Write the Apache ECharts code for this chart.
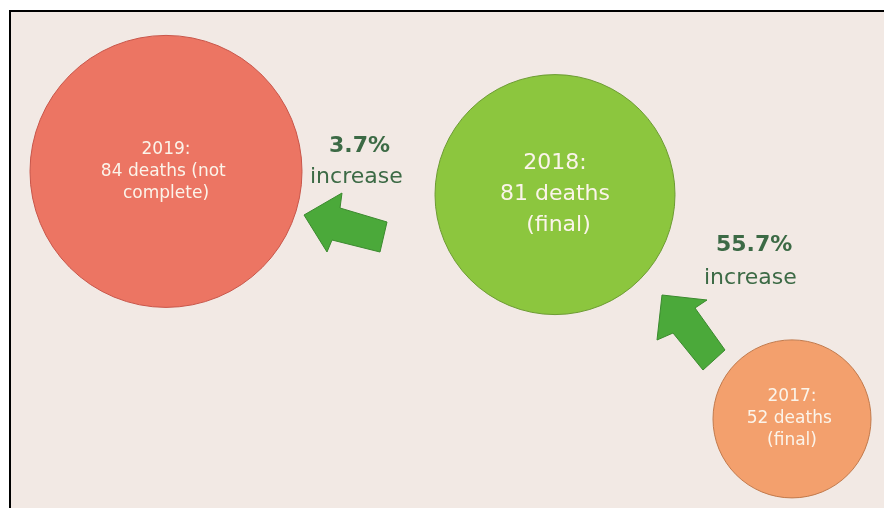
<!DOCTYPE html>
<html>
<head>
<meta charset="utf-8">
<script src="https://cdn.jsdelivr.net/npm/echarts@6/dist/echarts.min.js"></script>
<style>
  html, body { margin: 0; padding: 0; background: #ffffff; }
  #chart { width: 884px; height: 508px; }
</style>
</head>
<body>
<div id="chart"></div>
<script>
// Yearly death counts
const years = ['2019', '2018', '2017'];
const deaths = [84, 81, 52];
const notes = ['(not complete)', '(final)', '(final)'];

// Year-over-year change shown between the bubbles
const changeLabels = ['3.7%', '55.7%'];
const changeWord = 'increase';

// Layout: horizontal slot of each bubble, bubble diameters and colours
const bubbleX = [166, 555, 792];
const bubbleDiameter = [272, 240, 158];
const bubbleFill = ['#ec7563', '#8cc63e', '#f3a06d'];
const bubbleEdge = ['#c9564a', '#6d9c33', '#c27a4c'];
const labelSize = [17, 22, 17];
const labelLineHeight = [22, 31, 22];
const labelWidth = [132, 124, 96];

const FONT = '"DejaVu Sans", Verdana, sans-serif';
const TEXT_GREEN = '#3c6a45';
const ARROW_FILL = '#4ba93a';
const ARROW_EDGE = '#3b8a2e';

const chart = echarts.init(document.getElementById('chart'), null, { renderer: 'canvas' });

const bubbles = years.map((y, i) => ({
  value: [bubbleX[i], deaths[i]],
  symbolSize: bubbleDiameter[i],
  itemStyle: { color: bubbleFill[i], borderColor: bubbleEdge[i], borderWidth: 1, opacity: 1 },
  label: {
    fontSize: labelSize[i],
    lineHeight: labelLineHeight[i],
    width: labelWidth[i]
  }
}));

const option = {
  backgroundColor: '#ffffff',
  animation: false,
  grid: { left: 0, right: 0, top: 0, bottom: 0 },
  xAxis: { type: 'value', min: 0, max: 884, show: false },
  // vertical placement follows the death count
  yAxis: { type: 'value', min: 40.48, max: 106.16, show: false },
  graphic: [
    {
      type: 'rect', z: -10,
      shape: { x: 10, y: 11, width: 880, height: 510 },
      style: { fill: '#f2e9e4', stroke: '#000000', lineWidth: 2 }
    },
    {
      type: 'polygon', z: 1,
      shape: { points: [[304, 215], [342, 193], [340, 208], [387, 222], [380, 252], [332, 240], [327, 252]] },
      style: { fill: ARROW_FILL, stroke: ARROW_EDGE, lineWidth: 1 }
    },
    {
      type: 'polygon', z: 1,
      shape: { points: [[662, 295], [707, 300], [695, 308], [725, 350], [703, 370], [673, 333], [657, 340]] },
      style: { fill: ARROW_FILL, stroke: ARROW_EDGE, lineWidth: 1 }
    },
    {
      type: 'text', z: 5, left: 329, top: 135,
      style: { text: changeLabels[0], fill: TEXT_GREEN, font: 'bold 22px ' + FONT }
    },
    {
      type: 'text', z: 5, left: 310, top: 166,
      style: { text: changeWord, fill: TEXT_GREEN, font: '22px ' + FONT }
    },
    {
      type: 'text', z: 5, left: 716, top: 234,
      style: { text: changeLabels[1], fill: TEXT_GREEN, font: 'bold 22px ' + FONT }
    },
    {
      type: 'text', z: 5, left: 704, top: 267,
      style: { text: changeWord, fill: TEXT_GREEN, font: '22px ' + FONT }
    }
  ],
  series: [{
    type: 'scatter',
    symbol: 'circle',
    clip: false,
    z: 3,
    data: bubbles,
    label: {
      show: true,
      position: 'inside',
      color: '#fbf4ea',
      fontFamily: FONT,
      align: 'center',
      overflow: 'break',
      formatter: p => `${years[p.dataIndex]}:\n${deaths[p.dataIndex]} deaths ${notes[p.dataIndex]}`
    },
    emphasis: { disabled: true }
  }]
};

chart.setOption(option);
</script>
</body>
</html>
